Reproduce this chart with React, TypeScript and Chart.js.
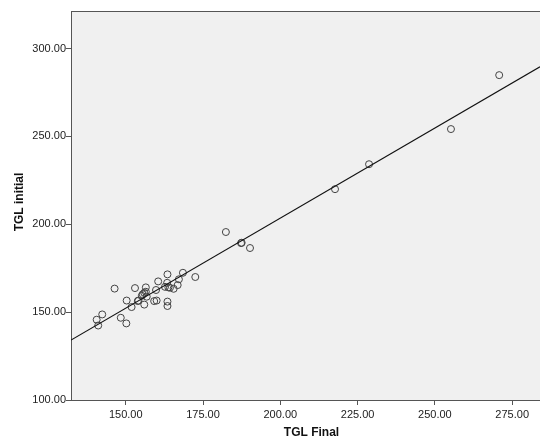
import React, { useEffect, useRef } from "react";
import { Chart, registerables } from "chart.js";

Chart.register(...registerables);

const tglFinal = [
  146.4, 153.0, 150.3, 153.9, 151.9, 142.4, 140.6, 141.1, 148.4, 150.2,
  163.5, 168.5, 172.5, 160.5, 163.4, 167.2, 166.8, 163.8, 165.5, 159.8,
  156.5, 155.5, 156.0, 156.5, 155.2, 156.8, 159.2, 160.0, 163.5, 163.5,
  156.0, 154.1, 162.7, 164.3, 182.4, 187.3, 187.5, 190.2, 217.7, 228.7,
  255.2, 270.8,
];
const tglInitial = [
  163.4, 163.7, 156.6, 156.3, 152.9, 148.7, 145.7, 142.4, 146.8, 143.6,
  171.5, 172.4, 170.0, 167.5, 166.7, 168.7, 165.4, 164.1, 163.3, 162.6,
  164.1, 160.2, 161.0, 161.6, 159.3, 158.8, 156.3, 156.6, 156.0, 153.5,
  154.3, 156.6, 164.4, 163.9, 195.6, 189.3, 189.5, 186.5, 220.0, 234.2,
  254.2, 284.9,
];
const fitX = [132.3, 284.0];
const fitY = [134.1, 289.6];
const xTicks = [150, 175, 200, 225, 250, 275];
const yTicks = [100, 150, 200, 250, 300];
const xTitle = "TGL Final";
const yTitle = "TGL initial";

export default function App() {
  const ref = useRef<HTMLCanvasElement | null>(null);
  useEffect(() => {
    document.body.style.margin = "0";
    const canvas = ref.current!;
    const bgPlugin = {
      id: "spssFrame",
      beforeDraw(chart: any) {
        const { ctx, chartArea: a } = chart;
        ctx.save();
        ctx.fillStyle = "#f0f0f0";
        ctx.fillRect(a.left, a.top, a.right - a.left, a.bottom - a.top);
        ctx.restore();
      },
      afterDraw(chart: any) {
        const { ctx, chartArea: a } = chart;
        ctx.save();
        ctx.strokeStyle = "#555";
        ctx.lineWidth = 1;
        ctx.beginPath();
        ctx.moveTo(a.left, a.top + 0.5);
        ctx.lineTo(a.right, a.top + 0.5);
        ctx.stroke();
        ctx.fillStyle = "#111";
        ctx.font = "bold 12px 'Liberation Sans', Arial, sans-serif";
        ctx.textAlign = "center";
        ctx.textBaseline = "middle";
        ctx.fillText(xTitle, 311.5, 433);
        ctx.translate(20, 202);
        ctx.rotate(-Math.PI / 2);
        ctx.fillText(yTitle, 0, 0);
        ctx.restore();
      },
    };
    const chart = new Chart(canvas, {
      type: "scatter",
      data: {
        datasets: [
          {
            type: "line",
            data: fitX.map((x, i) => ({ x, y: fitY[i] })),
            borderColor: "#111",
            borderWidth: 1.2,
            pointRadius: 0,
            fill: false,
          } as any,
          {
            data: tglFinal.map((x, i) => ({ x, y: tglInitial[i] })),
            pointRadius: 3.5,
            pointBackgroundColor: "rgba(0,0,0,0)",
            pointBorderColor: "#444",
            pointBorderWidth: 1,
          },
        ],
      },
      plugins: [bgPlugin],
      options: {
        animation: false,
        responsive: false,
        layout: { autoPadding: false, padding: { top: 11, left: 0, right: 0, bottom: 0 } },
        plugins: { legend: { display: false }, tooltip: { enabled: false } },
        scales: {
          x: {
            type: "linear",
            min: 132.3,
            max: 284.0,
            afterFit: (s: any) => {
              s.height = 41;
            },
            afterBuildTicks: (s: any) => {
              s.ticks = xTicks.map((v) => ({ value: v }));
            },
            grid: { drawOnChartArea: false, drawTicks: true, tickLength: 5, color: "#555" },
            border: { display: true, color: "#555" },
            ticks: {
              padding: 3,
              color: "#222",
              font: { family: "'Liberation Sans', Arial, sans-serif", size: 11 },
              callback: (v: any) => Number(v).toFixed(2),
              maxRotation: 0,
            },
          },
          y: {
            type: "linear",
            min: 100,
            max: 321.4,
            afterFit: (s: any) => {
              s.width = 71;
            },
            afterBuildTicks: (s: any) => {
              s.ticks = yTicks.map((v) => ({ value: v }));
            },
            grid: { drawOnChartArea: false, drawTicks: true, tickLength: 5, color: "#555" },
            border: { display: true, color: "#555" },
            ticks: {
              padding: 0,
              color: "#222",
              font: { family: "'Liberation Sans', Arial, sans-serif", size: 11 },
              callback: (v: any) => Number(v).toFixed(2),
            },
          },
        },
      },
    });
    return () => chart.destroy();
  }, []);
  return (
    <div style={{ width: 540, height: 441 }}>
      <canvas ref={ref} width={540} height={441} style={{ display: "block" }} />
    </div>
  );
}
